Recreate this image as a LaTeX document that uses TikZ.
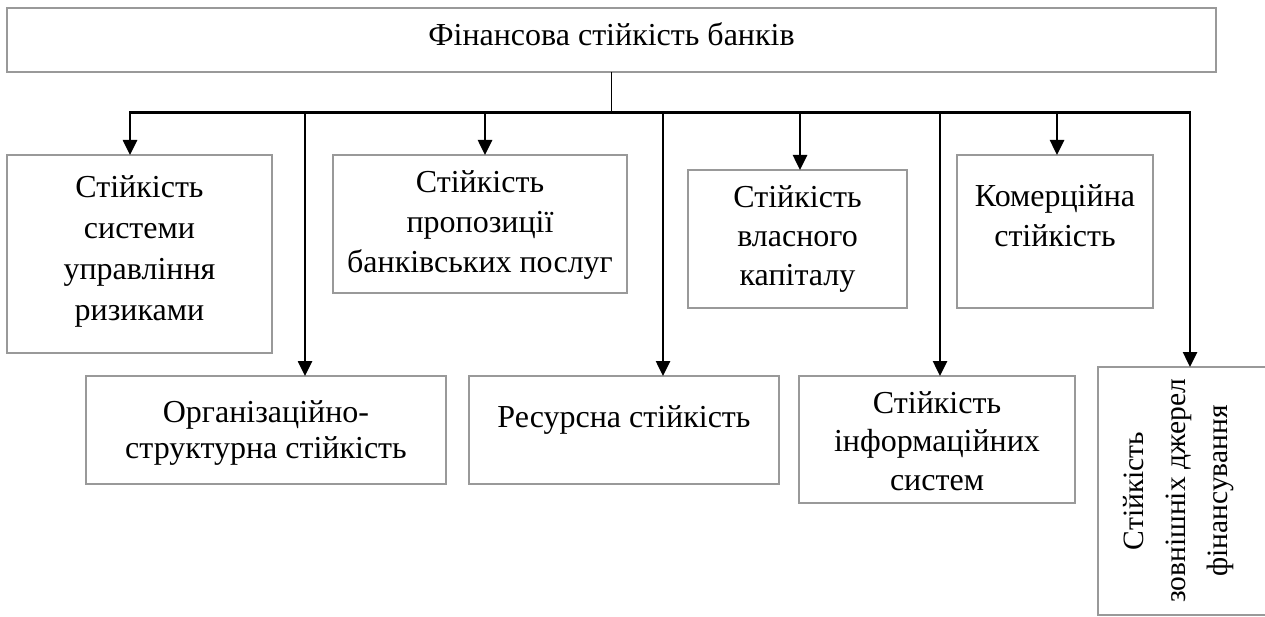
\documentclass[tikz,border=0pt]{standalone}
\usepackage{fontspec}
\setmainfont{Liberation Serif}
\usetikzlibrary{arrows.meta}
% #1 font size, #2 width, #3 height, #4 top gap, #5 line spacing, #6 text
\newcommand{\bxt}[6]{\parbox[c][#3pt][t]{#2pt}{\fontsize{#1}{#5}\selectfont\centering\vspace*{#4pt}\rule{0pt}{24pt}#6}}
\tikzset{
  box/.style={draw=black!40, line width=1.2pt, inner sep=0pt, outer sep=0pt, anchor=north west},
  bus/.style={line width=2.8pt, line cap=rect},
  stem/.style={line width=1.3pt},
  arr/.style={line width=2.6pt, -{Triangle[width=14pt,length=15pt]}}
}
\begin{document}
\begin{tikzpicture}[x=1pt,y=-1pt]
\useasboundingbox (0,0) rectangle (1265,617);
% top box
\node[box] (top) at (7,8) {\bxt{32}{1209}{64}{14}{40}{Фінансова стійкість банків}};
% upper row
\node[box] (b1) at (7,155) {\bxt{32}{265}{198}{19}{41}{Стійкість\\системи\\управління\\ризиками}};
\node[box] (b3) at (333,155) {\bxt{32}{294}{138}{14}{40}{Стійкість\\пропозиції\\банківських послуг}};
\node[box] (b5) at (688,170) {\bxt{32}{219}{138}{14}{39}{Стійкість\\власного\\капіталу}};
\node[box] (b7) at (957,155) {\bxt{32}{196}{153}{28}{40}{Комерційна\\стійкість}};
% lower row
\node[box] (b2) at (86,376) {\bxt{32}{360}{108}{22}{36.5}{Організаційно-\\структурна стійкість}};
\node[box] (b4) at (469,376) {\bxt{32}{310}{108}{27}{40}{Ресурсна стійкість}};
\node[box] (b6) at (799,376) {\bxt{32}{276}{127}{13}{38.5}{Стійкість\\інформаційних\\систем}};
\node[draw=black!40, line width=1.2pt, inner sep=0pt, outer sep=0pt, rotate=90] (b8) at (1184,491)
  {\bxt{29.5}{248}{172}{21}{42}{Стійкість\\зовнішніх джерел\\фінансування}};
% bus coordinates
\coordinate (d1) at (130,112.5);
\coordinate (d2) at (305,112.5);
\coordinate (d3) at (485,112.5);
\coordinate (d4) at (663,112.5);
\coordinate (d5) at (800,112.5);
\coordinate (d6) at (940,112.5);
\coordinate (d7) at (1057,112.5);
\coordinate (d8) at (1190,112.5);
\draw[stem] (top.south) -- (top.south |- d1);
\draw[bus] (d1) -- (d8);
\draw[arr] (d1) -- (d1 |- b1.north);
\draw[arr] (d2) -- (d2 |- b2.north);
\draw[arr] (d3) -- (d3 |- b3.north);
\draw[arr] (d4) -- (d4 |- b4.north);
\draw[arr] (d5) -- (d5 |- b5.north);
\draw[arr] (d6) -- (d6 |- b6.north);
\draw[arr] (d7) -- (d7 |- b7.north);
\draw[arr] (d8) -- (d8 |- b8.east);
\end{tikzpicture}
\end{document}
